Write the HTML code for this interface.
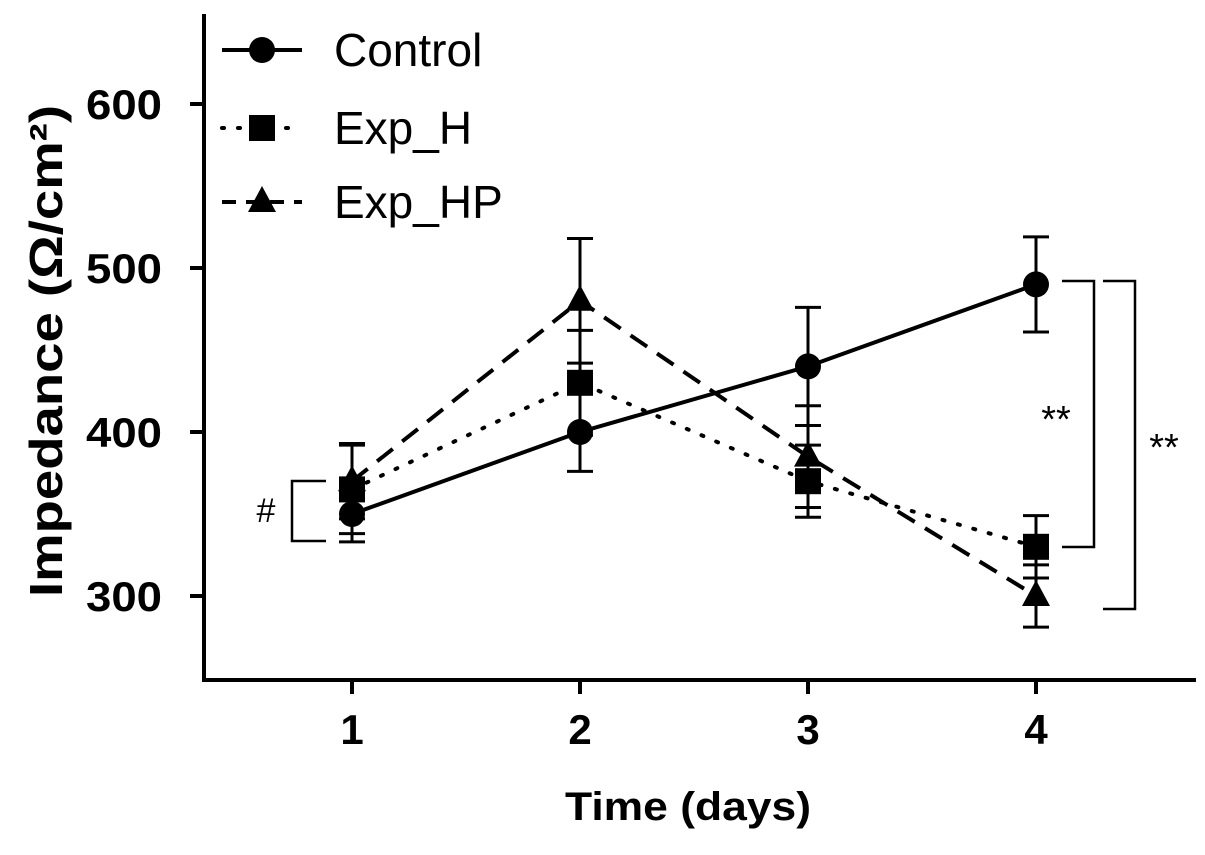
<!DOCTYPE html>
<html><head><meta charset="utf-8"><style>
body{margin:0;background:#fff;width:1205px;height:850px;overflow:hidden}
svg text{font-family:"Liberation Sans",sans-serif;fill:#000}
</style></head><body>
<svg id="chart" width="1205" height="850" xmlns="http://www.w3.org/2000/svg">
<g id="axes"></g><g id="series"></g><g id="annot"></g>
</svg>
<script>
const days=[1,2,3,4];
const yTicks=[300,400,500,600];
const controlVals=[350,400,440,490];
const controlErr=[17,24,36,29];
const expHVals=[365,430,370,330];
const expHErr=[27,32,22,19];
const expHPVals=[370,480,385,300];
const expHPErr=[23,38,31,19];
const NS="http://www.w3.org/2000/svg";
const svg=document.getElementById('chart');
function X(d){return 352+(d-1)*228;}
function Y(v){return 596-(v-300)*1.64;}
function mk(tag,attrs,parent,text){const e=document.createElementNS(NS,tag);for(const k in attrs)e.setAttribute(k,attrs[k]);if(text!==undefined)e.textContent=text;parent.appendChild(e);return e;}
const axes=document.getElementById('axes');
let e=mk('line',{x1:204,y1:14,x2:204,y2:681,stroke:'#000','stroke-width':4},axes);


e=mk('line',{x1:202,y1:680,x2:1196,y2:680,stroke:'#000','stroke-width':4},axes);


yTicks.forEach(v=>{
 mk('line',{x1:190,y1:Y(v),x2:204,y2:Y(v),stroke:'#000','stroke-width':4},axes);
 e=mk('text',{x:162,y:Y(v)+15,'text-anchor':'end','font-size':42,'font-weight':'bold',textLength:76,lengthAdjust:'spacingAndGlyphs'},axes,v);
 
 
});
days.forEach(d=>{
 mk('line',{x1:X(d),y1:680,x2:X(d),y2:694,stroke:'#000','stroke-width':4},axes);
 e=mk('text',{x:X(d),y:744,'text-anchor':'middle','font-size':42,'font-weight':'bold'},axes,d);
 
 
});
e=mk('text',{x:688,y:820,'text-anchor':'middle','font-size':40,'font-weight':'bold',textLength:246,lengthAdjust:'spacingAndGlyphs'},axes,'Time (days)');


e=mk('text',{x:0,y:0,'text-anchor':'middle','font-size':46,'font-weight':'bold',textLength:492,lengthAdjust:'spacingAndGlyphs',transform:'translate(62,351) rotate(-90)'},axes,'Impedance (Ω/cm²)');


const ser=document.getElementById('series');
function marker(type,x,y,g){
 if(type==='circle')return mk('circle',{cx:x,cy:y,r:13,fill:'#000'},g);
 if(type==='square')return mk('rect',{x:x-13,y:y-13,width:26,height:26,fill:'#000'},g);
 return mk('polygon',{points:`${x},${y-16} ${x+14},${y+10} ${x-14},${y+10}`,fill:'#000'},g);
}
const seriesDefs=[
 {name:'control',vals:controlVals,err:controlErr,dash:'',m:'circle'},
 {name:'exp-h',vals:expHVals,err:expHErr,dash:'2 14',m:'square'},
 {name:'exp-hp',vals:expHPVals,err:expHPErr,dash:'20 12',m:'triangle'}];
seriesDefs.forEach(s=>{
 const g=mk('g',{},ser);
 
 
 s.vals.forEach((v,i)=>{
  const x=X(days[i]),t=Y(v+s.err[i]),b=Y(v-s.err[i]);
  mk('line',{x1:x,y1:t,x2:x,y2:b,stroke:'#000','stroke-width':3},g);
  mk('line',{x1:x-13,y1:t,x2:x+13,y2:t,stroke:'#000','stroke-width':3},g);
  mk('line',{x1:x-13,y1:b,x2:x+13,y2:b,stroke:'#000','stroke-width':3},g);
 });
 const pl=mk('polyline',{points:s.vals.map((v,i)=>X(days[i])+','+Y(v)).join(' '),fill:'none',stroke:'#000','stroke-width':4,'stroke-dasharray':s.dash,'stroke-linecap':s.dash.startsWith('2 ')?'round':'butt'},g);
 
 
 s.vals.forEach((v,i)=>{
  const m=marker(s.m,X(days[i]),Y(v),g);
  
  
 });
});
const an=document.getElementById('annot');
const legendY=[50,128,202];
const legendNames=['Control','Exp_H','Exp_HP'];
seriesDefs.forEach((s,i)=>{
 const g=mk('g',{},an);
 
 
 mk('line',{x1:222,y1:legendY[i],x2:302,y2:legendY[i],stroke:'#000','stroke-width':4,'stroke-dasharray':s.dash==='20 12'?'14 10':s.dash,'stroke-linecap':s.dash.startsWith('2 ')?'round':'butt'},g);
 marker(s.m,262,legendY[i],g);
 mk('text',{x:334,y:legendY[i]+16,'font-size':46},g,legendNames[i]);
});
function bracket(x1,x2,y1,y2,name){
 e=mk('polyline',{points:`${x1},${y1} ${x2},${y1} ${x2},${y2} ${x1},${y2}`,fill:'none',stroke:'#000','stroke-width':2.5},an);
 
 
}
bracket(326,292,481,541,'bracket-day1');
bracket(1062,1094,281,547,'bracket-control-vs-h');
bracket(1103,1135,281,609,'bracket-control-vs-hp');
e=mk('text',{x:266,y:522,'text-anchor':'middle','font-size':34},an,'#');


e=mk('text',{x:1056,y:432,'text-anchor':'middle','font-size':38},an,'**');


e=mk('text',{x:1164,y:460,'text-anchor':'middle','font-size':38},an,'**');


</script>
</body></html>
